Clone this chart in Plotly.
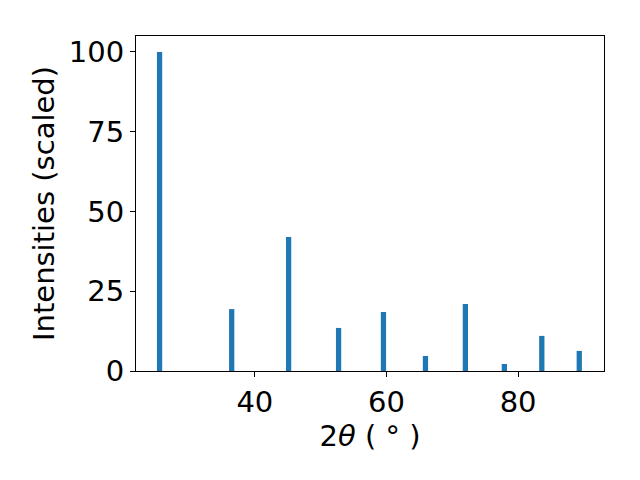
import plotly.graph_objects as go

two_theta = [25.52, 36.48, 45.13, 52.72, 59.54, 65.92, 71.99, 77.91, 83.6, 89.29]
intensity = [100.0, 19.4, 42.0, 13.5, 18.5, 4.7, 21.0, 2.2, 11.0, 6.3]
x_ticks = [40, 60, 80]
y_ticks = [0, 25, 50, 75, 100]

fig = go.Figure()
fig.add_trace(go.Bar(x=two_theta, y=intensity, width=0.8,
                     marker=dict(color="#1f77b4", line=dict(width=0))))

font = dict(family="DejaVu Sans", size=29, color="black")
fig.update_layout(
    width=640, height=480,
    margin=dict(l=128, r=44, t=28, b=117),
    paper_bgcolor="white", plot_bgcolor="white",
    showlegend=False,
    font=font,
    xaxis=dict(range=[21.94, 93.05], tickvals=x_ticks, ticks="outside", ticklen=5,
               tickwidth=1, tickcolor="black", showline=True, linecolor="black",
               linewidth=1, mirror=True, showgrid=False, zeroline=False,
               tickfont=font, automargin=False,
               title=dict(text="2<i>θ</i> ( ° )", font=font, standoff=0)),
    yaxis=dict(range=[0, 105], tickvals=y_ticks, ticks="outside", ticklen=5,
               tickwidth=1, tickcolor="black", showline=True, linecolor="black",
               linewidth=1, mirror=True, showgrid=False, zeroline=False,
               tickfont=font, automargin=False,
               title=dict(text="Intensities (scaled)", font=font, standoff=5)),
)
fig.write_html("out.html")
